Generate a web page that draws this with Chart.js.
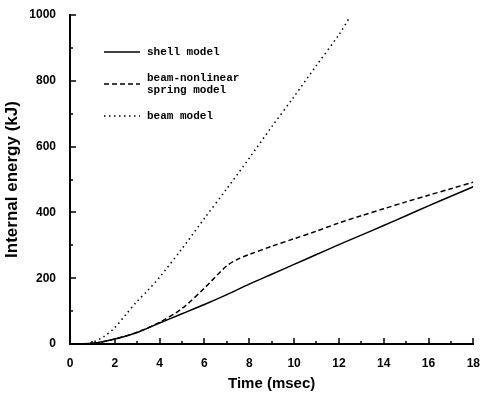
<!DOCTYPE html>
<html>
<head>
<meta charset="utf-8">
<script src="https://cdn.jsdelivr.net/npm/chart.js@4.4.1/dist/chart.umd.min.js"></script>
<style>
  html, body { margin: 0; padding: 0; background: #fff; }
  #wrap { width: 484px; height: 397px; }
</style>
</head>
<body>
<div id="wrap"><canvas id="energyChart"></canvas></div>
<script>
// values (time in msec, energy in kJ)
const shellTime = [0, 1, 2, 3, 4, 5, 6, 7, 8, 9, 10, 11, 12, 13, 14, 15, 16, 17, 18];
const shellEnergy = [0, 2, 15, 35, 64, 92, 120, 150, 182, 212, 242, 272, 302, 331, 360, 390, 420, 449, 478];

const springTime = [0, 1, 2, 3, 4, 5, 6, 7, 7.5, 8, 9, 10, 11, 12, 13, 14, 15, 16, 17, 18];
const springEnergy = [0, 2, 15, 36, 66, 108, 170, 238, 258, 272, 297, 320, 343, 368, 390, 411, 432, 452, 472, 492];

const beamTime = [0, 0.8, 1, 1.5, 2, 2.5, 3, 3.5, 4, 5, 6, 7, 8, 9, 10, 11, 12, 12.5];
const beamEnergy = [0, 0, 5, 22, 50, 90, 130, 165, 203, 290, 382, 472, 565, 660, 752, 847, 940, 995];

const legendLines = [['shell model'], ['beam-nonlinear', 'spring model'], ['beam model']];
const xTicks = [0, 2, 4, 6, 8, 10, 12, 14, 16, 18];
const yTicks = [0, 200, 400, 600, 800, 1000];

const toPoints = (xs, ys) => xs.map((x, i) => ({ x, y: ys[i] }));

// ticks in the figure point into the plot, with minor ticks in between
const inwardTicks = {
    id: 'inwardTicks',
    afterDraw(chart) {
        const { ctx, chartArea, scales: { x, y } } = chart;
        ctx.save();
        ctx.strokeStyle = '#000';
        ctx.lineWidth = 1.5;
        ctx.beginPath();
        for (let v = 1; v <= 18; v++) {
            const px = Math.round(x.getPixelForValue(v));
            ctx.moveTo(px, chartArea.bottom);
            ctx.lineTo(px, chartArea.bottom - (v % 2 ? 3 : 6));
        }
        for (let v = 100; v <= 1000; v += 100) {
            const py = Math.round(y.getPixelForValue(v));
            ctx.moveTo(chartArea.left, py);
            ctx.lineTo(chartArea.left + (v % 200 ? 3 : 6), py);
        }
        ctx.stroke();
        ctx.restore();
    }
};

// legend drawn inside the plot like the original
const insideLegend = {
    id: 'insideLegend',
    afterDraw(chart) {
        const ctx = chart.ctx;
        const rows = [52, 84, 116];
        ctx.save();
        ctx.fillStyle = '#000';
        ctx.font = 'bold 11px "Liberation Mono"';
        ctx.textBaseline = 'middle';
        chart.data.datasets.forEach((ds, i) => {
            const yy = rows[i];
            ctx.strokeStyle = '#000';
            ctx.lineWidth = ds.borderWidth;
            ctx.setLineDash(ds.borderDash || []);
            ctx.beginPath();
            ctx.moveTo(104, yy);
            ctx.lineTo(140, yy);
            ctx.stroke();
            const lines = legendLines[i];
            lines.forEach((t, k) => {
                ctx.fillText(t, 147, yy + (k - (lines.length - 1) / 2) * 12);
            });
        });
        ctx.restore();
    }
};

new Chart(document.getElementById('energyChart'), {
    type: 'line',
    data: {
        datasets: [
            { label: 'shell model', data: toPoints(shellTime, shellEnergy), borderColor: '#000', borderWidth: 1.5, pointRadius: 0, tension: 0.3, fill: false },
            { label: 'beam-nonlinear spring model', data: toPoints(springTime, springEnergy), borderColor: '#000', borderWidth: 1.5, borderDash: [5, 3], pointRadius: 0, tension: 0.3, fill: false },
            { label: 'beam model', data: toPoints(beamTime, beamEnergy), borderColor: '#000', borderWidth: 1.5, borderDash: [1.5, 3.5], pointRadius: 0, tension: 0.3, fill: false }
        ]
    },
    options: {
        responsive: true,
        maintainAspectRatio: false,
        animation: false,
        layout: { padding: { top: 15, right: 7, left: 0, bottom: 0 } },
        plugins: { legend: { display: false }, tooltip: { enabled: false } },
        scales: {
            x: {
                type: 'linear', min: 0, max: 18,
                afterBuildTicks: s => { s.ticks = xTicks.map(v => ({ value: v })); },
                afterFit: s => { s.height = 53; },
                grid: { display: false },
                border: { color: '#000', width: 2 },
                ticks: { color: '#000', padding: 4, callback: v => String(v), font: { family: 'Liberation Sans', size: 12, weight: 'bold' } },
                title: { display: true, text: 'Time (msec)', color: '#000', padding: { top: 6 }, font: { family: 'Liberation Sans', size: 15, weight: 'bold' } }
            },
            y: {
                min: 0, max: 1000,
                afterBuildTicks: s => { s.ticks = yTicks.map(v => ({ value: v })); },
                afterFit: s => { s.width = 70; },
                grid: { display: false },
                border: { color: '#000', width: 2 },
                ticks: { color: '#000', padding: 6, callback: v => String(v), font: { family: 'Liberation Sans', size: 12, weight: 'bold' } },
                title: { display: true, text: 'Internal energy (kJ)', color: '#000', padding: { bottom: 0, top: 2 }, font: { family: 'Liberation Sans', size: 17, weight: 'bold' } }
            }
        }
    },
    plugins: [inwardTicks, insideLegend]
});
</script>
</body>
</html>
